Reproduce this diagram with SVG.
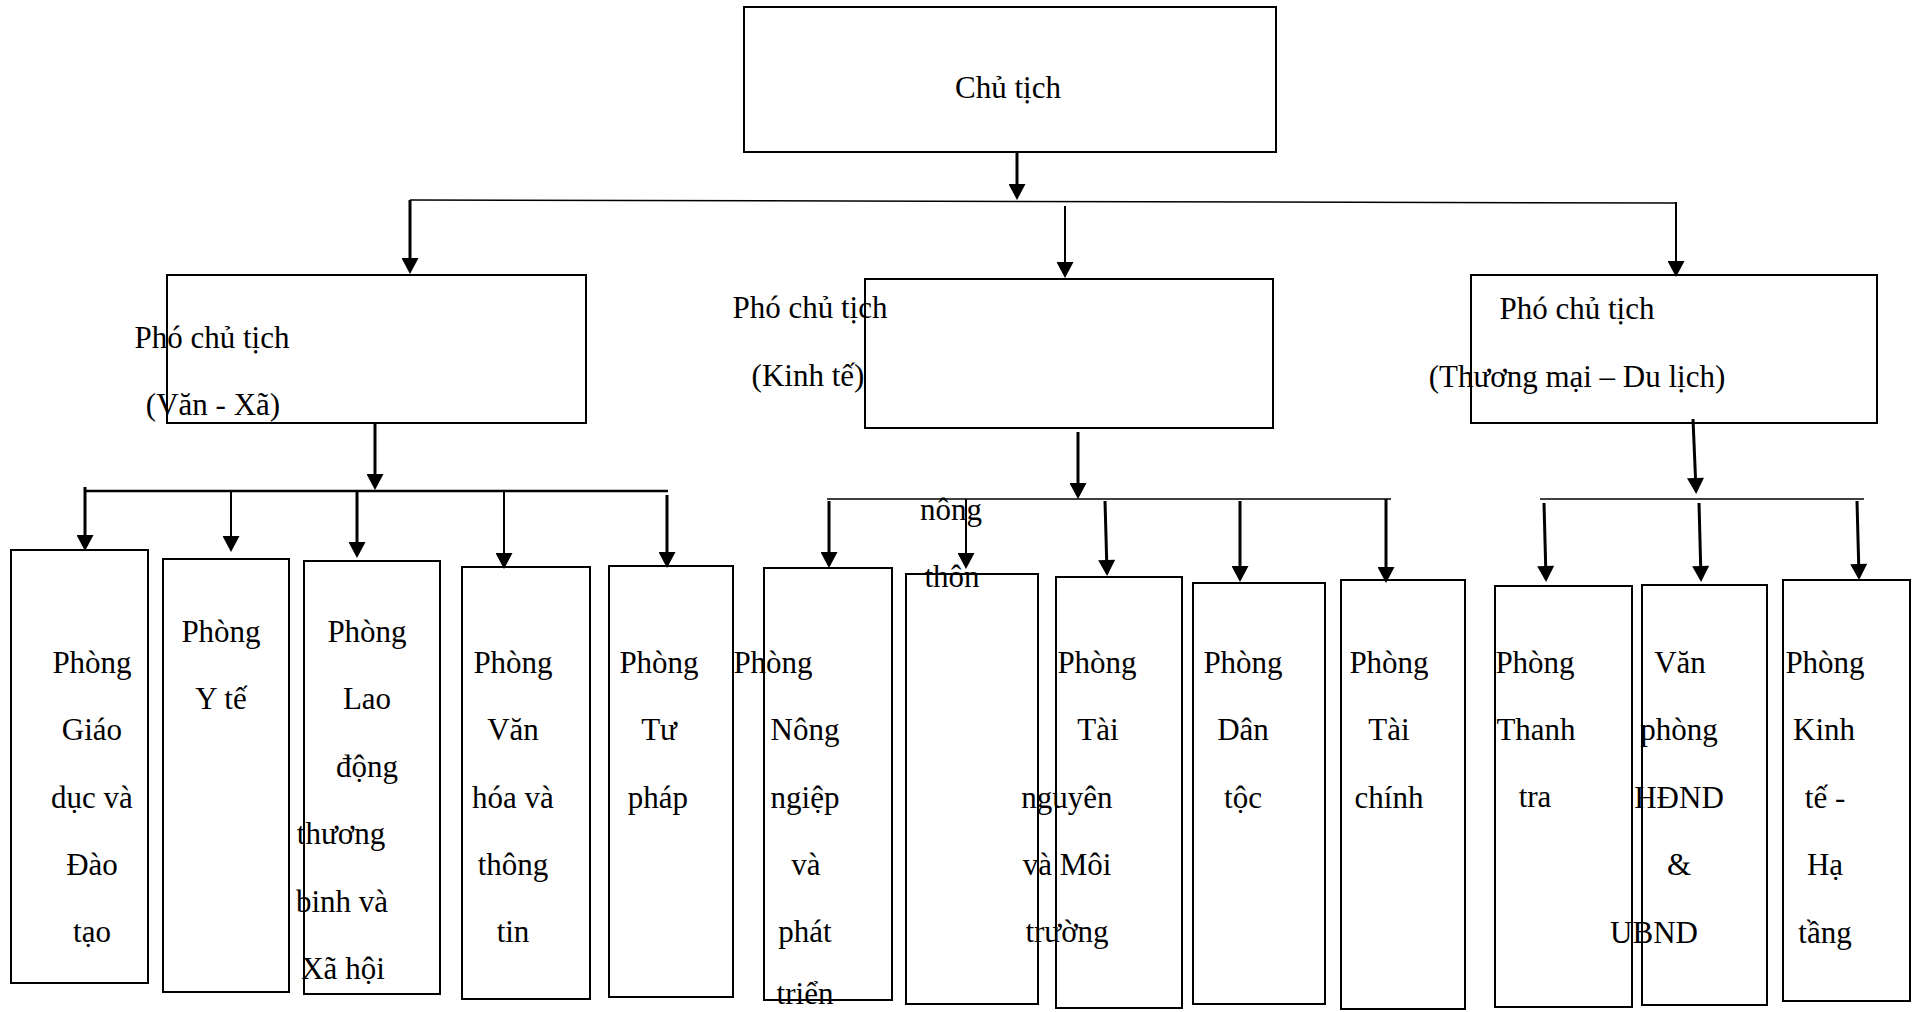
<svg xmlns="http://www.w3.org/2000/svg" width="1919" height="1012" viewBox="0 0 1919 1012">
<defs>
<style>
.box{fill:none;stroke:#000;stroke-width:2}
.t{font-family:"Liberation Serif","Times New Roman",serif;font-size:31px;fill:#000;text-anchor:middle}
.ln{stroke:#000;stroke-width:1.5;fill:none}
.hl{stroke:#000;stroke-width:2.5;fill:none}
.ak{stroke:#000;stroke-width:3;fill:none;marker-end:url(#ah)}
.an{stroke:#000;stroke-width:2;fill:none;marker-end:url(#ah)}
</style>
<marker id="ah" markerUnits="userSpaceOnUse" markerWidth="17" markerHeight="17" viewBox="0 0 16 17" refX="12" refY="8.5" orient="auto"><path d="M0,0 L16,8.5 L0,17 z" fill="#000"/></marker>
</defs>
<rect width="1919" height="1012" fill="#fff"/>
<g id="connectors">
<line class="ln" x1="410" y1="200" x2="1677" y2="203"/>
<line class="ak" x1="1017" y1="153" x2="1017" y2="196"/>
<line class="ak" x1="410" y1="200" x2="410" y2="270"/>
<line class="an" x1="1065" y1="206" x2="1065" y2="274"/>
<line class="an" x1="1676" y1="202" x2="1676" y2="273"/>
<line class="ak" x1="375" y1="424" x2="375" y2="486"/>
<line class="hl" x1="84" y1="491" x2="668" y2="491"/>
<line class="ak" x1="85" y1="487" x2="85" y2="547"/>
<line class="an" x1="231" y1="491" x2="231" y2="548"/>
<line class="ak" x1="357" y1="491" x2="357" y2="554"/>
<line class="an" x1="504" y1="491" x2="504" y2="565"/>
<line class="ak" x1="667" y1="495" x2="667" y2="564"/>
<line class="ak" x1="1078" y1="432" x2="1078" y2="495"/>
<line class="ln" x1="827" y1="499" x2="1391" y2="499"/>
<line class="ak" x1="829" y1="501" x2="829" y2="564"/>
<line class="an" x1="966" y1="499" x2="966" y2="565"/>
<line class="ak" x1="1105" y1="501" x2="1107" y2="572"/>
<line class="ak" x1="1240" y1="501" x2="1240" y2="578"/>
<line class="ak" x1="1386" y1="499" x2="1386" y2="579"/>
<line class="ak" x1="1693" y1="419" x2="1696" y2="490"/>
<line class="ln" x1="1540" y1="499" x2="1864" y2="499"/>
<line class="ak" x1="1544" y1="503" x2="1546" y2="578"/>
<line class="ak" x1="1699" y1="503" x2="1701" y2="578"/>
<line class="ak" x1="1857" y1="501" x2="1859" y2="576"/>
</g>
<g id="chu-tich">
<rect class="box" x="744" y="7" width="532" height="145"/>
<text class="t" x="1008" y="98">Chủ tịch</text>
</g>
<g id="pct-van-xa">
<rect class="box" x="167" y="275" width="419" height="148"/>
<text class="t" x="212" y="348">Phó chủ tịch</text>
<text class="t" x="213" y="415">(Văn - Xã)</text>
</g>
<g id="pct-kinh-te">
<rect class="box" x="865" y="279" width="408" height="149"/>
<text class="t" x="810" y="318">Phó chủ tịch</text>
<text class="t" x="808" y="386">(Kinh tế)</text>
</g>
<g id="pct-thuong-mai">
<rect class="box" x="1471" y="275" width="406" height="148"/>
<text class="t" x="1577" y="319">Phó chủ tịch</text>
<text class="t" x="1577" y="387">(Thương mại – Du lịch)</text>
</g>
<g id="phong-giao-duc">
<rect class="box" x="11" y="550" width="137" height="433"/>
<text class="t" x="92" y="673">Phòng</text>
<text class="t" x="92" y="740">Giáo</text>
<text class="t" x="92" y="808">dục và</text>
<text class="t" x="92" y="875">Đào</text>
<text class="t" x="92" y="942">tạo</text>
</g>
<g id="phong-y-te">
<rect class="box" x="163" y="559" width="126" height="433"/>
<text class="t" x="221" y="642">Phòng</text>
<text class="t" x="221" y="709">Y tế</text>
</g>
<g id="phong-lao-dong">
<rect class="box" x="304" y="561" width="136" height="433"/>
<text class="t" x="367" y="642">Phòng</text>
<text class="t" x="367" y="709">Lao</text>
<text class="t" x="367" y="777">động</text>
<text class="t" x="341" y="844">thương</text>
<text class="t" x="342" y="912">binh và</text>
<text class="t" x="343" y="979">Xã hội</text>
</g>
<g id="phong-van-hoa">
<rect class="box" x="462" y="567" width="128" height="432"/>
<text class="t" x="513" y="673">Phòng</text>
<text class="t" x="513" y="740">Văn</text>
<text class="t" x="513" y="808">hóa và</text>
<text class="t" x="513" y="875">thông</text>
<text class="t" x="513" y="942">tin</text>
</g>
<g id="phong-tu-phap">
<rect class="box" x="609" y="566" width="124" height="431"/>
<text class="t" x="659" y="673">Phòng</text>
<text class="t" x="659" y="740">Tư</text>
<text class="t" x="658" y="808">pháp</text>
</g>
<g id="phong-nong-nghiep">
<rect class="box" x="764" y="568" width="128" height="432"/>
<text class="t" x="773" y="673">Phòng</text>
<text class="t" x="805" y="740">Nông</text>
<text class="t" x="805" y="808">ngiệp</text>
<text class="t" x="806" y="875">và</text>
<text class="t" x="805" y="942">phát</text>
<text class="t" x="805" y="1004">triển</text>
</g>
<g id="nong-thon">
<rect class="box" x="906" y="574" width="132" height="430"/>
<text class="t" x="951" y="520">nông</text>
<text class="t" x="952" y="587">thôn</text>
</g>
<g id="phong-tai-nguyen">
<rect class="box" x="1056" y="577" width="126" height="431"/>
<text class="t" x="1097" y="673">Phòng</text>
<text class="t" x="1098" y="740">Tài</text>
<text class="t" x="1067" y="808">nguyên</text>
<text class="t" x="1067" y="875">và Môi</text>
<text class="t" x="1067" y="942">trường</text>
</g>
<g id="phong-dan-toc">
<rect class="box" x="1193" y="583" width="132" height="421"/>
<text class="t" x="1243" y="673">Phòng</text>
<text class="t" x="1243" y="740">Dân</text>
<text class="t" x="1243" y="808">tộc</text>
</g>
<g id="phong-tai-chinh">
<rect class="box" x="1341" y="580" width="124" height="429"/>
<text class="t" x="1389" y="673">Phòng</text>
<text class="t" x="1389" y="740">Tài</text>
<text class="t" x="1389" y="808">chính</text>
</g>
<g id="phong-thanh-tra">
<rect class="box" x="1495" y="586" width="137" height="421"/>
<text class="t" x="1535" y="673">Phòng</text>
<text class="t" x="1536" y="740">Thanh</text>
<text class="t" x="1535" y="807">tra</text>
</g>
<g id="van-phong-hdnd">
<rect class="box" x="1642" y="585" width="125" height="420"/>
<text class="t" x="1680" y="673">Văn</text>
<text class="t" x="1679" y="740">phòng</text>
<text class="t" x="1679" y="808">HĐND</text>
<text class="t" x="1679" y="875">&amp;</text>
<text class="t" x="1654" y="943">UBND</text>
</g>
<g id="phong-kinh-te-ha-tang">
<rect class="box" x="1783" y="580" width="127" height="421"/>
<text class="t" x="1825" y="673">Phòng</text>
<text class="t" x="1824" y="740">Kinh</text>
<text class="t" x="1825" y="808">tế -</text>
<text class="t" x="1825" y="875">Hạ</text>
<text class="t" x="1825" y="943">tầng</text>
</g>
</svg>
